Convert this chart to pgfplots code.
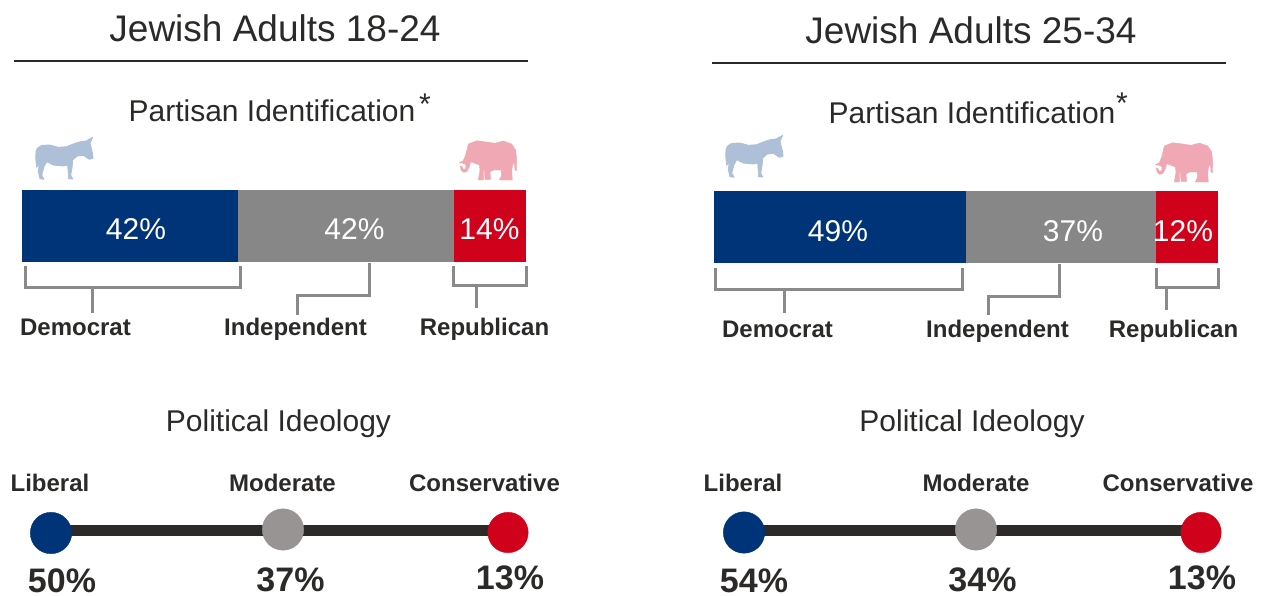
\documentclass[border=0pt]{standalone}
\usepackage{pgfplots}
\usepackage{pgfplotstable}
\usepackage{fontspec}
\setmainfont{Liberation Sans}
\pgfplotsset{compat=1.18}
\definecolor{demblue}{HTML}{003478}
\definecolor{indgrey}{HTML}{878787}
\definecolor{repred}{HTML}{D0021B}
\definecolor{dotgrey}{HTML}{989494}
\definecolor{ink}{HTML}{2B2A29}
\definecolor{brace}{HTML}{8A8A8A}
\definecolor{donkey}{HTML}{AEBFD8}
\definecolor{elephant}{HTML}{F0A8B4}

% Party animal outlines, in picture pixels
\pgfplotstableread{
x y
37.3 148.3
41.7 145.3
50 145
58.3 147.3
66.7 146.7
75 143.3
81.7 141.3
86 141
92.7 137.3
90 143.3
92.7 154
93 158.3
89.3 159.3
83.3 155.3
77.3 156
72.7 160
72 168.3
70.7 175
72.7 179
68.3 178.7
68.3 173.3
67.7 165
63.3 166
53.3 165
46.7 161.7
44 166.7
41.7 175
44 179.3
40 178.7
38.3 171.7
39.3 163.3
36.7 167.3
35.7 158.3
36 151.7
}\donkeyshape
\pgfplotstableread{
x y
468.3 144
476.7 140.7
486.7 142
495 143.3
503.3 141
511.7 144
515.7 150
516.7 160
516.3 170.7
515 170
514.3 161.7
512.7 165
511.7 170
512.3 180
499.3 180
501.7 175
501 170
493.3 170
490 172
490.7 179.3
485 179.3
484.3 170
483.3 170
483.3 180
478.3 180
480 170
479.3 165
475 163.3
470.7 161.7
469.3 166.7
466.7 171.7
463.3 172.3
461 170
460.3 166
462 166.7
463.3 169.3
465.7 168.7
466 164.7
463.3 163.3
459.3 162.7
463.3 160.7
465.7 155
}\elephantshape

\begin{document}
\begin{tikzpicture}[x=1pt,y=1pt]
\path[use as bounding box] (0,0) rectangle (1265pt,595pt);

% Drawing layer in picture pixels: rules, brackets, animals, ideology scales, text
\begin{axis}[
  at={(0,0)}, anchor=south west, scale only axis,
  width=1265pt, height=595pt,
  xmin=0, xmax=1265, ymin=0, ymax=595, y dir=reverse,
  hide axis, clip=false,
  every node/.style={inner sep=0pt, outer sep=0pt},
]
% title rules
\addplot[ink, line width=2pt] coordinates {(14,60.5) (528,60.5)};
\addplot[ink, line width=2pt] coordinates {(712,62.5) (1226,62.5)};

% animals
\addplot[fill=donkey, draw=donkey, line width=0.8pt, line join=round] table[x=x, y=y] {\donkeyshape} -- cycle;
\addplot[fill=donkey, draw=donkey, line width=0.8pt, line join=round] table[x expr=\thisrow{x}+690, y expr=\thisrow{y}-2] {\donkeyshape} -- cycle;
\addplot[fill=elephant, draw=elephant, line width=0.4pt, line join=round] table[x=x, y=y] {\elephantshape} -- cycle;
\addplot[fill=elephant, draw=elephant, line width=0.4pt, line join=round] table[x expr=\thisrow{x}+696, y expr=\thisrow{y}+2] {\elephantshape} -- cycle;

% brackets, 18-24
\addplot[brace, line width=3pt] coordinates {(25,266) (25,287) (240.5,287) (240.5,266)};
\addplot[brace, line width=3pt] coordinates {(92,287) (92,313)};
\addplot[brace, line width=3pt] coordinates {(369,263) (369,295) (297,295) (297,315)};
\addplot[brace, line width=3pt] coordinates {(453,266) (453,285) (526.5,285) (526.5,266)};
\addplot[brace, line width=3pt] coordinates {(476,285) (476,308)};
% brackets, 25-34
\addplot[brace, line width=3pt] coordinates {(715,268) (715,289) (962,289) (962,268)};
\addplot[brace, line width=3pt] coordinates {(784,289) (784,313)};
\addplot[brace, line width=3pt] coordinates {(1059,264) (1059,296) (988,296) (988,315)};
\addplot[brace, line width=3pt] coordinates {(1156,268) (1156,287) (1218,287) (1218,268)};
\addplot[brace, line width=3pt] coordinates {(1166,287) (1166,310)};

% ideology scales
\addplot[ink, line width=11pt] coordinates {(51,530.5) (508,530.5)};
\addplot[ink, line width=11pt] coordinates {(744,530.5) (1201,530.5)};
\addplot[only marks, mark=*, mark size=20.7pt, mark options={draw=demblue, fill=demblue}] coordinates {(51,533) (744,532.5)};
\addplot[only marks, mark=*, mark size=20.7pt, mark options={draw=dotgrey, fill=dotgrey}] coordinates {(283,529.5) (976,529.5)};
\addplot[only marks, mark=*, mark size=20.2pt, mark options={draw=repred, fill=repred}] coordinates {(508,532.5) (1201,532.5)};

% headings
\def\titlefont{\color{ink}\fontsize{37}{37}\selectfont}
\def\subfont{\color{ink}\fontsize{30}{30}\selectfont}
\def\catfont{\color{ink}\fontsize{24}{24}\selectfont\bfseries}
\def\pctfont{\color{ink}\fontsize{34}{34}\selectfont\bfseries}

\node at (axis cs:275,28) {\titlefont Jewish Adults 18-24};
\node at (axis cs:971,30) {\titlefont Jewish Adults 25-34};
\node at (axis cs:272,110.5) {\subfont Partisan Identification};
\node at (axis cs:972,112.5) {\subfont Partisan Identification};
\node at (axis cs:425,104) {\subfont *};
\node at (axis cs:1122,103.5) {\subfont *};
\node at (axis cs:278.5,424) {\subfont Political Ideology};
\node at (axis cs:972,424) {\subfont Political Ideology};

% party names
\node at (axis cs:75.5,327) {\catfont Democrat};
\node at (axis cs:295.5,329) {\catfont Independent};
\node at (axis cs:484.5,329) {\catfont Republican};
\node at (axis cs:777.5,329) {\catfont Democrat};
\node at (axis cs:997.5,331) {\catfont Independent};
\node at (axis cs:1173.5,331) {\catfont Republican};

% ideology names and shares
\node at (axis cs:50,483) {\catfont Liberal};
\node at (axis cs:282.5,483) {\catfont Moderate};
\node at (axis cs:484.5,483) {\catfont Conservative};
\node at (axis cs:743,483) {\catfont Liberal};
\node at (axis cs:976,483) {\catfont Moderate};
\node at (axis cs:1178,483) {\catfont Conservative};
\node at (axis cs:62,581) {\pctfont 50\%};
\node at (axis cs:290.5,580) {\pctfont 37\%};
\node at (axis cs:510,578) {\pctfont 13\%};
\node at (axis cs:754,581) {\pctfont 54\%};
\node at (axis cs:982.5,580) {\pctfont 34\%};
\node at (axis cs:1202,578) {\pctfont 13\%};
\end{axis}

% Partisan bar, 18-24
\begin{axis}[
  at={(22pt,333pt)}, anchor=south west, scale only axis,
  width=504pt, height=72pt,
  xmin=0, xmax=98, ymin=-0.5, ymax=0.5,
  xbar stacked, bar width=72pt, hide axis, clip=false,
]
\addplot[fill=demblue, draw=none] coordinates {(42,0)};
\addplot[fill=indgrey, draw=none] coordinates {(42,0)};
\addplot[fill=repred, draw=none] coordinates {(14,0)};
\end{axis}
\node[text=white, inner sep=0pt] at (136pt,366pt) {\fontsize{30}{30}\selectfont 42\%};
\node[text=white, inner sep=0pt] at (354.5pt,366pt) {\fontsize{30}{30}\selectfont 42\%};
\node[text=white, inner sep=0pt] at (489.5pt,366pt) {\fontsize{30}{30}\selectfont 14\%};

% Partisan bar, 25-34
\begin{axis}[
  at={(714pt,332pt)}, anchor=south west, scale only axis,
  width=504pt, height=72pt,
  xmin=0, xmax=98, ymin=-0.5, ymax=0.5,
  xbar stacked, bar width=72pt, hide axis, clip=false,
]
\addplot[fill=demblue, draw=none] coordinates {(49,0)};
\addplot[fill=indgrey, draw=none] coordinates {(37,0)};
\addplot[fill=repred, draw=none] coordinates {(12,0)};
\end{axis}
\node[text=white, inner sep=0pt] at (838pt,364pt) {\fontsize{30}{30}\selectfont 49\%};
\node[text=white, inner sep=0pt] at (1073pt,364pt) {\fontsize{30}{30}\selectfont 37\%};
\node[text=white, inner sep=0pt] at (1183pt,364pt) {\fontsize{30}{30}\selectfont 12\%};
\end{tikzpicture}
\end{document}
